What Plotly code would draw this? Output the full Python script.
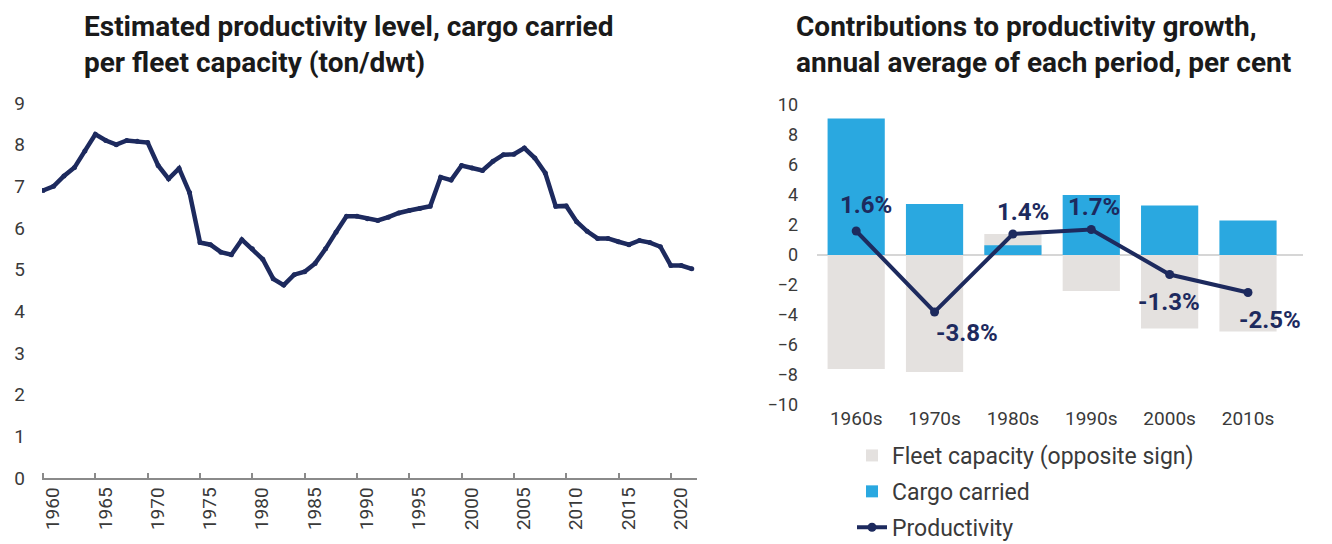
import plotly.graph_objects as go

# ---------------- data ----------------
years = list(range(1960, 2023))
productivity_level = [
    6.90, 7.00, 7.25, 7.45, 7.85, 8.25, 8.10, 8.00, 8.10, 8.08,
    8.05, 7.50, 7.18, 7.43, 6.85, 5.65, 5.60, 5.42, 5.36, 5.72,
    5.50, 5.25, 4.78, 4.63, 4.88, 4.95, 5.15, 5.50, 5.90, 6.28,
    6.28, 6.22, 6.18, 6.26, 6.36, 6.42, 6.47, 6.52, 7.22, 7.15,
    7.50, 7.44, 7.38, 7.60, 7.76, 7.77, 7.92, 7.68, 7.32, 6.52,
    6.53, 6.15, 5.92, 5.75, 5.75, 5.67, 5.60, 5.70, 5.65, 5.55,
    5.10, 5.10, 5.02,
]
left_ytick_vals = list(range(0, 10))
left_xtick_vals = list(range(1960, 2021, 5))

decades = ["1960s", "1970s", "1980s", "1990s", "2000s", "2010s"]
fleet_capacity_opp = [-7.6, -7.8, 1.4, -2.4, -4.9, -5.1]
cargo_carried = [9.1, 3.4, 0.65, 4.0, 3.3, 2.3]
productivity_growth = [1.6, -3.8, 1.4, 1.7, -1.3, -2.5]
productivity_labels = ["1.6%", "-3.8%", "1.4%", "1.7%", "-1.3%", "-2.5%"]
right_ytick_vals = list(range(-10, 11, 2))

# label offsets (style)
label_xshift = [10, 32, 10, 3, -1, 22]
label_yshift = [26, -21, 22, 23, -27, -27]

NAVY = "#1d2a5e"
BLUE = "#2aa8e0"
GREY = "#e4e1df"
TXT = "#3a3a3a"
FONT = "Roboto"
W, H = 1332, 544
OFF = 8  # page body margin offset in the browser


def px(x):
    return (x - OFF) / W


def py(y):
    return 1 - (y - OFF) / H


fig = go.Figure()

# left chart
fig.add_trace(go.Scatter(
    x=years, y=productivity_level, mode="lines+markers",
    line=dict(color=NAVY, width=4.5), marker=dict(color=NAVY, size=5),
    xaxis="x", yaxis="y", showlegend=False, hoverinfo="x+y",
))

# right chart
fig.add_trace(go.Bar(
    x=decades, y=fleet_capacity_opp, name="Fleet capacity (opposite sign)",
    marker=dict(color=GREY, line=dict(width=0)), width=0.73,
    xaxis="x2", yaxis="y2", legendgroup="a",
))
fig.add_trace(go.Bar(
    x=decades, y=cargo_carried, name="Cargo carried",
    marker=dict(color=BLUE, line=dict(width=0)), width=0.73,
    xaxis="x2", yaxis="y2", legendgroup="b",
))
fig.add_trace(go.Scatter(
    x=decades, y=productivity_growth, name="Productivity", mode="lines+markers",
    line=dict(color=NAVY, width=4), marker=dict(color=NAVY, size=9),
    xaxis="x2", yaxis="y2", legendgroup="c",
))

annotations = []
for d, v, t, xs, ys in zip(decades, productivity_growth, productivity_labels,
                           label_xshift, label_yshift):
    annotations.append(dict(
        x=d, y=v, xref="x2", yref="y2", text=t, showarrow=False,
        xshift=xs, yshift=ys,
        font=dict(family=FONT, size=24, color=NAVY, weight="bold"),
    ))

# titles
annotations.append(dict(
    x=px(82), y=py(8), xref="paper", yref="paper", xanchor="left", yanchor="top",
    align="left", showarrow=False,
    text="Estimated productivity level, cargo carried<br>per fleet capacity (ton/dwt)",
    font=dict(family=FONT, size=28, color="#1a1a1a", weight="bold"),
))
annotations.append(dict(
    x=px(794), y=py(8), xref="paper", yref="paper", xanchor="left", yanchor="top",
    align="left", showarrow=False,
    text="Contributions to productivity growth,<br>annual average of each period, per cent",
    font=dict(family=FONT, size=28, color="#1a1a1a", weight="bold"),
))

fig.update_layout(
    width=W, height=H,
    margin=dict(l=0, r=0, t=0, b=0, autoexpand=False),
    paper_bgcolor="white", plot_bgcolor="white",
    barmode="overlay",
    font=dict(family=FONT, color=TXT),
    annotations=annotations,
    legend=dict(
        x=px(852), y=py(434), xanchor="left", yanchor="top",
        font=dict(family=FONT, size=23, color=TXT),
        traceorder="grouped", tracegroupgap=3,
        bgcolor="rgba(0,0,0,0)", itemwidth=30,
    ),
    xaxis=dict(
        domain=[px(42), px(697)], range=[1959.9, 2022.5],
        tickvals=left_xtick_vals, tickangle=-90, automargin=False,
        showline=True, linecolor="#8a8a8a", linewidth=1.5,
        ticks="inside", ticklen=5, tickcolor="#8a8a8a", tickwidth=1.5,
        showgrid=False, zeroline=False,
        tickfont=dict(family=FONT, size=19, color=TXT),
        ticklabelshift=10,
    ),
    yaxis=dict(
        domain=[py(478), py(103)], range=[0, 9], automargin=False,
        tickvals=left_ytick_vals, showgrid=False, zeroline=False, showline=False,
        tickfont=dict(family=FONT, size=19, color=TXT),
        ticklabelstandoff=16,
    ),
    xaxis2=dict(
        domain=[px(817), px(1303)], type="category", automargin=False,
        showline=False, showgrid=False, zeroline=False, ticks="",
        tickfont=dict(family=FONT, size=19, color=TXT),
        anchor="y2",
    ),
    yaxis2=dict(
        domain=[py(405), py(105)], range=[-10, 10], automargin=False,
        tickvals=right_ytick_vals, showgrid=False, showline=False,
        zeroline=True, zerolinecolor="#d6d6d6", zerolinewidth=1.5,
        tickfont=dict(family=FONT, size=18, color=TXT),
        ticklabelstandoff=18, anchor="x2",
    ),
)

fig.write_html("out.html")
